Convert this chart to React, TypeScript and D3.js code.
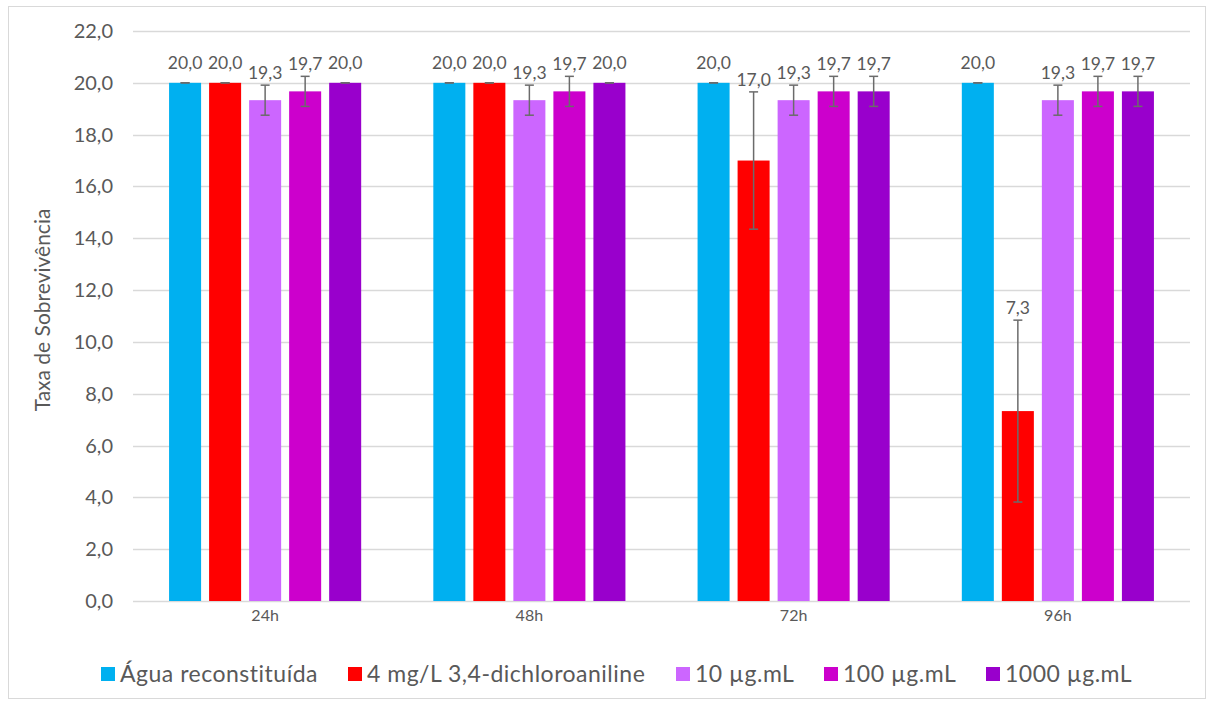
import React from "react";
import * as d3 from "d3";

const categories = ["24h", "48h", "72h", "96h"];
const seriesNames = [
  "Água reconstituída",
  "4 mg/L 3,4-dichloroaniline",
  "10 µg.mL",
  "100 µg.mL",
  "1000 µg.mL",
];
const seriesColors = ["#00B0F0", "#FF0000", "#CC66FF", "#CC00CC", "#9900CC"];
// values per series, per category
const aguaValues = [20.0, 20.0, 20.0, 20.0];
const dcaValues = [20.0, 20.0, 17.0, 7.33];
const c10Values = [19.33, 19.33, 19.33, 19.33];
const c100Values = [19.67, 19.67, 19.67, 19.67];
const c1000Values = [20.0, 20.0, 19.67, 19.67];
const aguaErr = [0, 0, 0, 0];
const dcaErr = [0, 0, 2.65, 3.51];
const c10Err = [0.58, 0.58, 0.58, 0.58];
const c100Err = [0.58, 0.58, 0.58, 0.58];
const c1000Err = [0, 0, 0.58, 0.58];
const yTicks = [0, 2, 4, 6, 8, 10, 12, 14, 16, 18, 20, 22];

const allValues = [aguaValues, dcaValues, c10Values, c100Values, c1000Values];
const allErrs = [aguaErr, dcaErr, c10Err, c100Err, c1000Err];

const W = 1214;
const H = 704;
const plotLeft = 133;
const plotRight = 1190;
const plotTop = 31;
const plotBottom = 601;
const FONT = "Lato, 'Liberation Sans', sans-serif";
const TEXT = "#595959";

const fmt = (v: number) => v.toFixed(1).replace(".", ",");

export default function App() {
  const y = d3.scaleLinear().domain([0, 22]).range([plotBottom, plotTop]);
  const x0 = d3
    .scaleBand<string>()
    .domain(categories)
    .range([plotLeft, plotRight])
    .paddingInner(0.273)
    .paddingOuter(0.1365);
  const x1 = d3
    .scaleBand<string>()
    .domain(seriesNames)
    .range([0, x0.bandwidth()])
    .paddingInner(0.2);

  const legendX = [101, 348, 676, 824, 986];

  return (
    <svg
      width={W}
      height={H}
      style={{ position: "absolute", left: 0, top: 0, background: "#fff" }}
      fontFamily={FONT}
    >
      <rect x={8.5} y={6.5} width={1197} height={692} fill="#fff" stroke="#D9D9D9" />
      {yTicks.map((t) => (
        <g key={t}>
          <line
            x1={plotLeft}
            x2={plotRight}
            y1={Math.round(y(t)) + 0.5}
            y2={Math.round(y(t)) + 0.5}
            stroke="#D9D9D9"
            strokeWidth={1.3}
          />
          <text
            x={113}
            y={y(t)}
            dy="0.35em"
            textAnchor="end"
            fontSize={20}
            fill={TEXT}
          >
            {fmt(t)}
          </text>
        </g>
      ))}
      <text
        transform={`translate(50, ${(plotTop + plotBottom) / 2 - 6}) rotate(-90)`}
        textAnchor="middle"
        fontSize={21}
        fill={TEXT}
      >
        Taxa de Sobrevivência
      </text>
      {categories.map((c, ci) => (
        <g key={c} transform={`translate(${x0(c)},0)`}>
          {seriesNames.map((s, si) => {
            const v = allValues[si][ci];
            const e = allErrs[si][ci];
            const bx = x1(s)!;
            const bw = x1.bandwidth();
            const cx = bx + bw / 2;
            const top = y(v + e);
            const bot = y(v - e);
            const labelY = Math.min(y(v + e) - 6, y(v) - 14);
            return (
              <g key={s}>
                <rect x={bx} y={y(v)} width={bw} height={plotBottom - y(v)} fill={seriesColors[si]} />
                <line x1={cx} x2={cx} y1={top} y2={bot} stroke="#6b6b6b" strokeWidth={1.5} />
                <line x1={cx - 4.5} x2={cx + 4.5} y1={top} y2={top} stroke="#6b6b6b" strokeWidth={1.5} />
                <line x1={cx - 4.5} x2={cx + 4.5} y1={bot} y2={bot} stroke="#6b6b6b" strokeWidth={1.5} />
                <text x={cx} y={labelY} textAnchor="middle" fontSize={17.5} fill={TEXT}>
                  {fmt(v)}
                </text>
              </g>
            );
          })}
          <text
            x={x0.bandwidth() / 2}
            y={621}
            textAnchor="middle"
            fontSize={16}
            fill={TEXT}
          >
            {c}
          </text>
        </g>
      ))}
      {seriesNames.map((s, si) => (
        <g key={s} transform={`translate(${legendX[si]},0)`}>
          <rect x={0} y={667} width={14} height={14} fill={seriesColors[si]} />
          <text x={19} y={682} fontSize={23} letterSpacing={0.5} fill={TEXT}>
            {s}
          </text>
        </g>
      ))}
    </svg>
  );
}
